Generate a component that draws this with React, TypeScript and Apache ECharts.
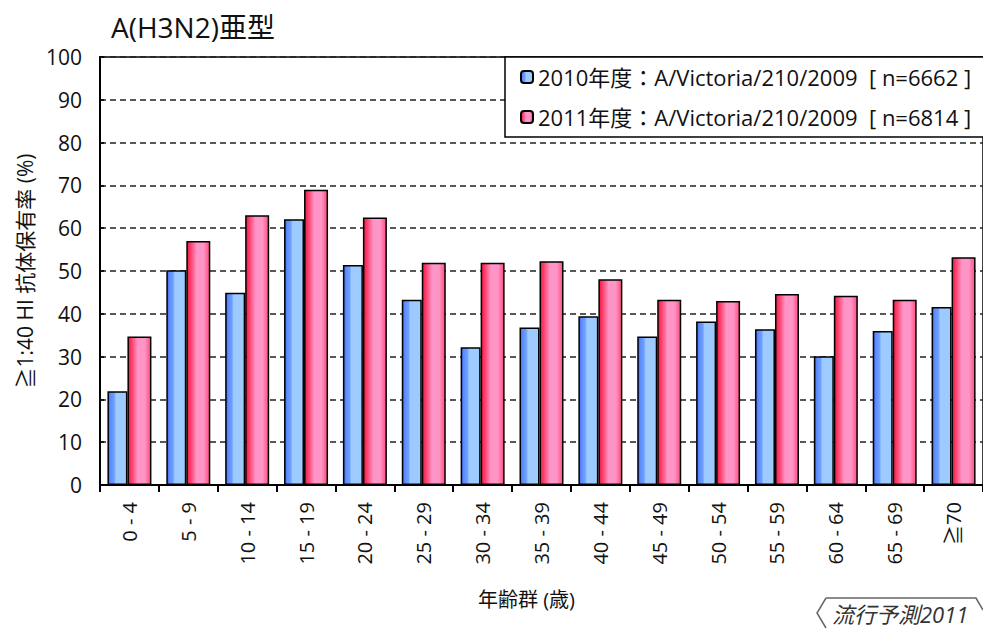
import React, { useEffect, useRef } from "react";
import * as echarts from "echarts";

const categories = ["0 - 4", "5 - 9", "10 - 14", "15 - 19", "20 - 24", "25 - 29", "30 - 34", "35 - 39", "40 - 44", "45 - 49", "50 - 54", "55 - 59", "60 - 64", "65 - 69", "≧70"];
const values2010 = [21.9, 50.2, 44.9, 62.1, 51.4, 43.3, 32.2, 36.8, 39.4, 34.7, 38.2, 36.4, 30.1, 36.0, 41.6];
const values2011 = [34.7, 57.0, 63.0, 69.0, 62.5, 51.9, 51.9, 52.3, 48.1, 43.3, 43.0, 44.6, 44.2, 43.3, 53.2];
const seriesNames = ["2010年度：A/Victoria/210/2009  [ n=6662 ]", "2011年度：A/Victoria/210/2009  [ n=6814 ]"];
const yTicks = { min: 0, max: 100, interval: 10 };

const FONT = "'Open Sans', 'Noto Sans CJK JP', sans-serif";

const blueGrad = new echarts.graphic.LinearGradient(0, 0, 1, 0, [
  { offset: 0, color: "#3d62e6" },
  { offset: 0.12, color: "#5b8cff" },
  { offset: 0.32, color: "#6f9eff" },
  { offset: 0.42, color: "#9dcbff" },
  { offset: 1, color: "#9dcbff" },
]);
const pinkGrad = new echarts.graphic.LinearGradient(0, 0, 1, 0, [
  { offset: 0, color: "#e81c48" },
  { offset: 0.14, color: "#ff3a66" },
  { offset: 0.3, color: "#ff6c9c" },
  { offset: 0.42, color: "#ff94c6" },
  { offset: 0.74, color: "#ff94c6" },
  { offset: 0.88, color: "#ff6c9c" },
  { offset: 1, color: "#ff5486" },
]);

export default function App() {
  const ref = useRef<HTMLDivElement>(null);
  useEffect(() => {
    if (!ref.current) return;
    const chart = echarts.init(ref.current, null, { renderer: "svg" });
    chart.setOption({
      animation: false,
      backgroundColor: "#ffffff",
      textStyle: { fontFamily: FONT },
      title: {
        text: "A(H3N2)亜型",
        left: 106,
        top: 8,
        textStyle: { fontFamily: FONT, fontSize: 28, fontWeight: "normal", color: "#111" },
      },
      legend: {
        orient: "vertical",
        left: 505,
        top: 57,
        padding: [9, 30, 9, 15],
        itemGap: 18,
        itemWidth: 12,
        itemHeight: 12,
        backgroundColor: "#ffffff",
        borderColor: "#000",
        borderWidth: 1.5,
        borderRadius: 0,
        textStyle: { fontFamily: FONT, fontSize: 22, color: "#111" },
        data: seriesNames,
      },
      grid: { left: 100, top: 57, width: 889, height: 428, show: true, borderColor: "#000", borderWidth: 1.5, backgroundColor: "transparent" },
      xAxis: {
        type: "category",
        data: categories,
        name: "年齢群 (歳)",
        nameLocation: "middle",
        nameGap: 104,
        nameTextStyle: { fontFamily: FONT, fontSize: 20, color: "#111", padding: [0, 30, 0, 0] },
        axisLine: { lineStyle: { color: "#000", width: 2 } },
        axisTick: { show: true, length: 7, lineStyle: { color: "#000", width: 2 } },
        axisLabel: { rotate: 90, margin: 17, fontFamily: FONT, fontSize: 20, color: "#111" },
      },
      yAxis: {
        type: "value",
        min: yTicks.min,
        max: yTicks.max,
        interval: yTicks.interval,
        name: "≧1:40 HI 抗体保有率 (%)",
        nameLocation: "middle",
        nameGap: 64,
        nameRotate: 90,
        nameTextStyle: { fontFamily: FONT, fontSize: 21, color: "#111" },
        axisLine: { show: true, lineStyle: { color: "#000", width: 2 } },
        axisTick: { show: true, inside: true, length: 4, lineStyle: { color: "#000", width: 1.5 } },
        axisLabel: { margin: 18, fontFamily: FONT, fontSize: 21, color: "#111" },
        splitLine: { show: true, lineStyle: { color: "#222", width: 1.6, type: [6, 4] } },
      },
      series: [
        {
          name: seriesNames[0],
          type: "bar",
          data: values2010,
          barWidth: 20,
          barGap: "0%",
          itemStyle: { color: blueGrad, borderColor: "#000", borderWidth: 1.5 },
        },
        {
          name: seriesNames[1],
          type: "bar",
          data: values2011,
          barWidth: 24,
          barGap: "0%",
          itemStyle: { color: pinkGrad, borderColor: "#000", borderWidth: 1.5 },
        },
      ],
      graphic: [
        {
          type: "polyline",
          shape: { points: [[826, 598], [817, 613], [826, 628]] },
          style: { stroke: "#666", lineWidth: 1.5, fill: null },
        },
        {
          type: "polyline",
          shape: { points: [[826, 598], [976, 598], [983, 610]] },
          style: { stroke: "#666", lineWidth: 1.5, fill: null },
        },
        {
          type: "text",
          x: 832,
          y: 614,
          style: {
            text: "流行予測2011",
            fontFamily: FONT,
            fontSize: 22,
            fontStyle: "italic",
            fill: "#333",
            verticalAlign: "middle",
            align: "left",
          },
        },
      ],
    });
    return () => chart.dispose();
  }, []);
  return <div ref={ref} style={{ position: "absolute", left: 0, top: 0, width: 983, height: 629 }} />;
}
